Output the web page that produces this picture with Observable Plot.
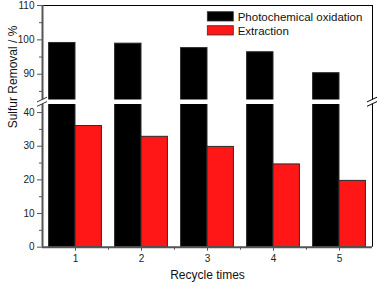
<!DOCTYPE html>
<html><head><meta charset="utf-8">
<script src="https://cdn.jsdelivr.net/npm/d3@7"></script>
<script src="https://cdn.jsdelivr.net/npm/@observablehq/plot@0.6"></script>
<style>
body{margin:0;background:#fff}
svg{font-family:"Liberation Sans",Arial,sans-serif}
</style>
</head><body><div id="chart"></div>
<script>
const cycles = [1, 2, 3, 4, 5];
const photochemical = [99.1, 98.9, 97.6, 96.4, 90.3];
const extraction = [36.0, 32.8, 29.8, 24.6, 19.7];
const seriesNames = ["Photochemical oxidation", "Extraction"];
const seriesColors = ["#000000", "#ff1616"];
const yMajorTicks = [0, 10, 20, 30, 40, 90, 100, 110];
const yMinorTicks = [5, 15, 25, 35, 85, 95, 105];
const xMinorTicks = [1.5, 2.5, 3.5, 4.5];
const breakLow = 42.4, breakHigh = 82.5, yMax = 110;
const xTitle = "Recycle times";
const yTitle = "Sulfur Removal / %";

const rows = [];
cycles.forEach((c, i) => {
  rows.push({cycle: c, series: seriesNames[0], value: photochemical[i], offset: -1});
  rows.push({cycle: c, series: seriesNames[1], value: extraction[i], offset: 0});
});
const barW = 0.4;
const segments = [[0, breakLow], [breakHigh, yMax]];

const W = 378, H = 285, mL = 42, mR = 6, mT = 5, mB = 38.3;
const yBottom = H - mB;

const breakMark = (index, {x, y}) => {
  const g = d3.create("svg:g").attr("fill", "none").attr("stroke-width", 1);
  const yc = (y(breakLow) + y(breakHigh)) / 2;
  for (const [xv, col] of [[0.5, "#333"], [5.5, "#000"]]) {
    const xc = x(xv);
    for (const off of [-2.2, 2.2]) {
      g.append("line").attr("stroke", col)
        .attr("x1", xc - 5).attr("y1", yc + off + 2.4)
        .attr("x2", xc + 5).attr("y2", yc + off - 2.4);
    }
  }
  return g.node();
};

const legendMark = (index, scales, values, {width, marginRight, marginTop}) => {
  const g = d3.create("svg:g");
  seriesNames.forEach((name, i) => {
    const y0 = marginTop + 6.7 + i * 14;
    g.append("rect").attr("x", width - marginRight - 164.7).attr("y", y0)
      .attr("width", 26).attr("height", 9.3)
      .attr("fill", seriesColors[i]).attr("stroke", "#333").attr("stroke-width", 0.8);
    g.append("text").attr("x", width - marginRight - 134.3).attr("y", y0 + 4.7)
      .attr("dy", "0.36em").attr("text-anchor", "start")
      .attr("font-size", 11.5).attr("fill", "#111").text(name);
  });
  return g.node();
};

const chart = Plot.plot({
  width: W, height: H,
  marginLeft: mL, marginRight: mR, marginTop: mT, marginBottom: mB,
  style: {fontFamily: '"Liberation Sans", Arial, sans-serif', fontSize: "10px", color: "#222", background: "#fff"},
  x: {type: "linear", domain: [0.5, 5.5], axis: null},
  y: {type: "linear", domain: [0, breakLow, breakHigh, yMax], range: [yBottom, 104, 99.5, mT], axis: null},
  color: {domain: seriesNames, range: seriesColors},
  marks: [
    Plot.rect(rows, {
      x1: d => d.cycle + d.offset * barW,
      x2: d => d.cycle + (d.offset + 1) * barW,
      y1: 0, y2: "value", fill: "series", stroke: "#2a2a2a", strokeWidth: 1
    }),
    Plot.rect([0], {x1: 0.5, x2: 5.5, y1: breakLow, y2: breakHigh, fill: "white"}),
    Plot.ruleY([yMax], {x1: 0.5, x2: 5.5, stroke: "#000", strokeWidth: 1}),
    Plot.ruleX(segments, {x: 5.5, y1: d => d[0], y2: d => d[1], stroke: "#000", strokeWidth: 1}),
    Plot.ruleX(segments, {x: 0.5, y1: d => d[0], y2: d => d[1], stroke: "#555", strokeWidth: 2}),
    Plot.ruleY([0], {x1: 0.5, x2: 5.5, stroke: "#555", strokeWidth: 2}),
    Plot.axisY({ticks: yMajorTicks, tickSize: 5, tickPadding: 3, stroke: "#555", label: null, fontSize: 10, fill: "#222"}),
    Plot.axisY({ticks: yMinorTicks, tickSize: 3, tickFormat: () => "", stroke: "#555", label: null}),
    Plot.axisX({ticks: cycles, tickSize: 4, tickPadding: 4, stroke: "#555", label: null, fontSize: 10, tickFormat: d => String(d), fill: "#222"}),
    Plot.axisX({ticks: xMinorTicks, tickSize: 3, tickFormat: () => "", stroke: "#555", label: null}),
    breakMark,
    legendMark,
    Plot.text([xTitle], {frameAnchor: "bottom", dy: 31.5, fontSize: 12, fill: "#111", text: d => d}),
    Plot.text([yTitle], {frameAnchor: "left", dx: -29, dy: 2, rotate: -90, fontSize: 12, fill: "#111", text: d => d})
  ]
});
document.getElementById("chart").append(chart);
</script>
</body></html>
